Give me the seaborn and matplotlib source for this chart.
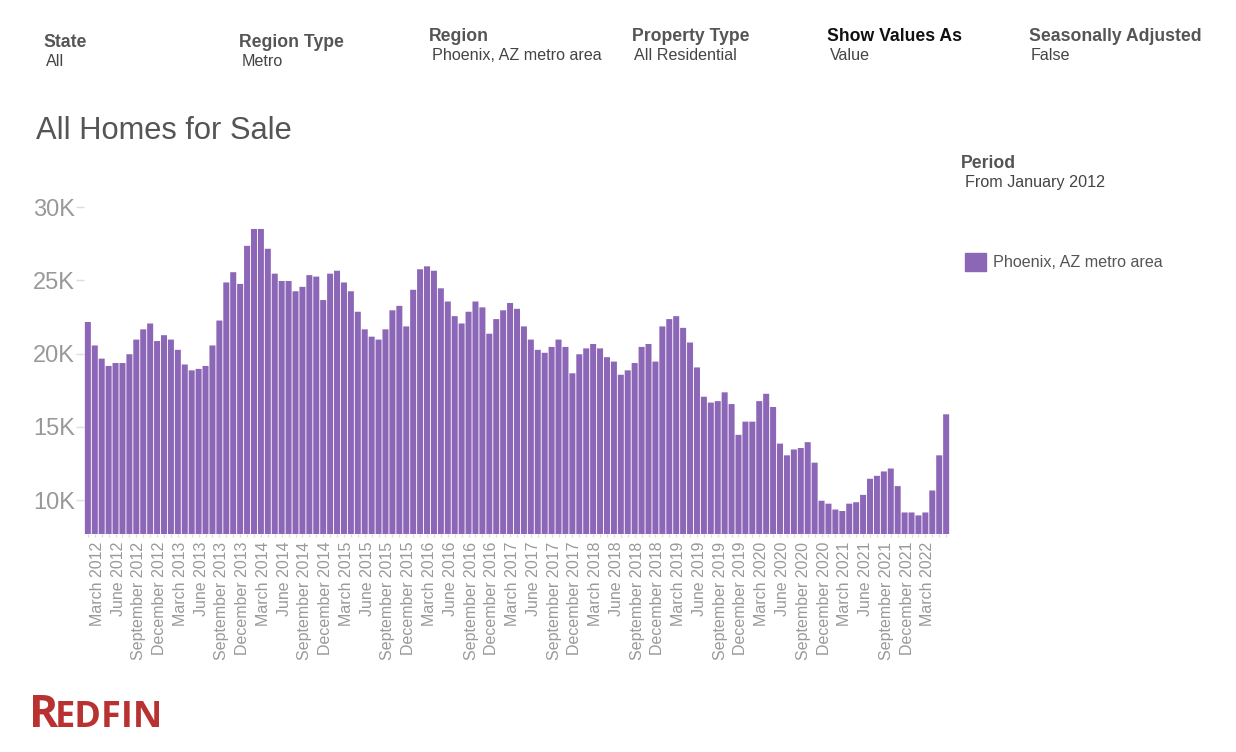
import matplotlib
matplotlib.use("Agg")
import matplotlib.pyplot as plt
from matplotlib.patches import Patch
from matplotlib.transforms import ScaledTranslation
import pandas as pd
import seaborn as sns

# monthly inventory (Feb 2012 - Jun 2022)
months = pd.date_range("2012-02-01", periods=125, freq="MS").strftime("%B %Y").tolist()
homes = [
    22150, 20550, 19650, 19150, 19350, 19350, 19950, 20950, 21650, 22050, 20850,
    21250, 20950, 20250, 19250, 18850, 18950, 19150, 20550, 22250, 24850, 25550,
    24750, 27350, 28500, 28500, 27150, 25450, 24950, 24950, 24250, 24550, 25350,
    25250, 23650, 25450, 25650, 24850, 24250, 22850, 21650, 21150, 20950, 21650,
    22950, 23250, 21850, 24350, 25750, 25950, 25650, 24450, 23550, 22550, 22050,
    22850, 23550, 23150, 21350, 22350, 22950, 23450, 23050, 21850, 20950, 20250,
    20050, 20450, 20950, 20450, 18650, 19950, 20350, 20650, 20350, 19750, 19450,
    18550, 18850, 19350, 20450, 20650, 19450, 21850, 22350, 22550, 21750, 20750,
    19050, 17050, 16650, 16750, 17350, 16550, 14450, 15350, 15350, 16750, 17250,
    16350, 13850, 13050, 13450, 13550, 13950, 12550, 9950, 9750, 9350, 9250,
    9750, 9850, 10350, 11450, 11650, 11950, 12150, 10950, 9150, 9150, 8950,
    9150, 10650, 13050, 15850,
]
y_ticks = [10000, 15000, 20000, 25000, 30000]
y_labels = ["10K", "15K", "20K", "25K", "30K"]

# filter strip: header, value, x of header, x of value, baseline of header, baseline of value, header colour
filters = [
    ("State", "All", 43, 46, 47, 66, "#555555"),
    ("Region Type", "Metro", 239, 242, 47, 66, "#555555"),
    ("Region", "Phoenix, AZ metro area", 429, 432, 41, 60, "#555555"),
    ("Property Type", "All Residential", 632, 634, 41, 60, "#555555"),
    ("Show Values As", "Value", 827, 830, 41, 60, "#111111"),
    ("Seasonally Adjusted", "False", 1029, 1031, 41, 60, "#555555"),
]

W, H = 1236, 752
PURPLE = "#8d67b7"

sns.set_style("white")
plt.rcParams["font.family"] = ["Liberation Sans", "DejaVu Sans"]

fig = plt.figure(figsize=(W / 100, H / 100), dpi=100)
ax = fig.add_axes([84.4 / W, 1 - 534 / H, 865.2 / W, 327 / H])

df = pd.DataFrame({"month": months, "homes": homes})
sns.barplot(data=df, x="month", y="homes", color=PURPLE, saturation=1, width=0.87, linewidth=0, ax=ax)
for bar in ax.patches:
    bar.set_snap(False)

ax.set_xlim(-0.5, len(months) - 0.5)
ax.set_ylim(7680, 30000)
ax.set_xlabel("")
ax.set_ylabel("")
sns.despine(ax=ax, left=True, bottom=True)

ax.set_yticks(y_ticks)
ax.set_yticklabels(y_labels, fontsize=17, color="#999999")
ax.tick_params(axis="y", left=True, length=5.5, width=1, color="#dddddd", pad=1.5)

# every bar gets a small tick, every third one a label, the last ones have none
ax.set_xticks(range(len(months)))
ax.set_xticklabels([m if i % 3 == 1 and i < 122 else "" for i, m in enumerate(months)],
                   rotation=90, fontsize=11.5, color="#999999")
ax.tick_params(axis="x", bottom=True, length=2, width=1, color="#dddddd", pad=3.5)
nudge = ScaledTranslation(2.5 / 100, 0, fig.dpi_scale_trans)
for lab in ax.get_xticklabels():
    lab.set_transform(lab.get_transform() + nudge)


def put(x, y, s, **kw):
    fig.text(x / W, 1 - y / H, s, va="baseline", **kw)


for head, val, xh, xv, yh, yv, col in filters:
    put(xh, yh, head, fontsize=12.7, fontweight="bold", color=col)
    put(xv, yv, val, fontsize=11.6, color="#444444")

put(36, 139, "All Homes for Sale", fontsize=22.2, color="#555555")
put(961, 168, "Period", fontsize=12.7, fontweight="bold", color="#555555")
put(965, 187, "From January 2012", fontsize=11.6, color="#444444")

fig.legend(handles=[Patch(color=PURPLE, label="Phoenix, AZ metro area")],
           loc="center left", bbox_to_anchor=(965 / W, 1 - 262 / H), frameon=False,
           fontsize=11.6, labelcolor="#555555", borderpad=0, borderaxespad=0,
           handlelength=1.31, handleheight=1.25, handletextpad=0.43)

# wordmark
put(29, 727, "R", fontsize=32, fontweight="bold", family="Open Sans", color="#b83232")
put(55, 727, "EDFIN", fontsize=26, fontweight="bold", family="Open Sans", color="#b83232")

fig.savefig("out.png", dpi=100)
